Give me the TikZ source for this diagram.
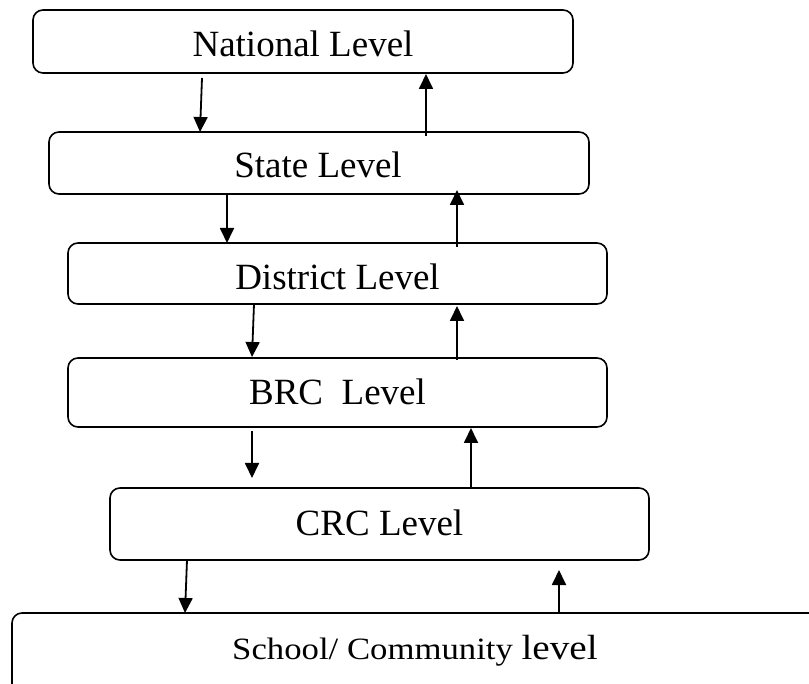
\documentclass[tikz,border=0pt]{standalone}
\usepackage{fontspec}
\setmainfont{Liberation Serif}
\newfontfamily\widefont[FakeStretch=1.12]{Liberation Serif}
\usetikzlibrary{arrows.meta}
\tikzset{
  levelbox/.style={draw, rectangle, rounded corners=10pt, line width=1.6pt, inner sep=0pt},
  lbl/.style={anchor=base, inner sep=0pt, font=\fontsize{37}{40}\selectfont},
  arr/.style={line width=1.8pt, -{Triangle[length=15pt,width=14pt]}},
}
\begin{document}
\begin{tikzpicture}[x=1pt, y=-1pt]
\useasboundingbox (0,0) rectangle (809,684);
\clip (0,0) rectangle (809,684);
% boxes
\node[levelbox, minimum width=540pt, minimum height=63pt] (nat) at (303,41.5) {};
\node[levelbox, minimum width=540pt, minimum height=62pt] (sta) at (319,163) {};
\node[levelbox, minimum width=539pt, minimum height=61pt] (dis) at (337.5,273.5) {};
\node[levelbox, minimum width=539pt, minimum height=69pt] (brc) at (337.5,392.5) {};
\node[levelbox, minimum width=539pt, minimum height=72pt] (crc) at (379.5,524) {};
\node[levelbox, minimum width=818pt, minimum height=82pt] (sch) at (421,654) {};
% labels
\node[lbl] (natT) at (303,57) {National Level};
\node[lbl] (staT) at (318,178) {State Level};
\node[lbl] (disT) at (337.5,290) {District Level};
\node[lbl] (brcT) at (337.5,405) {BRC\ \ Level};
\node[lbl] (crcT) at (379.5,535) {CRC Level};
\node[anchor=base, inner sep=0pt] (schT) at (415,659) {\widefont\fontsize{31}{34}\selectfont School/ Community \fontsize{35}{38}\selectfont level};
% connector end points
\coordinate (a1s) at (202,78);  \coordinate (a1e) at (200,132);
\coordinate (a2s) at (426,136); \coordinate (a2e) at (426,74);
\coordinate (a3s) at (227,194); \coordinate (a3e) at (227,243);
\coordinate (a4s) at (457,247); \coordinate (a4e) at (457,190);
\coordinate (a5s) at (254,304); \coordinate (a5e) at (252,357);
\coordinate (a6s) at (457,360); \coordinate (a6e) at (457,306);
\coordinate (a7s) at (252,431); \coordinate (a7e) at (252,478);
\coordinate (a8s) at (471,488); \coordinate (a8e) at (471,428);
\coordinate (a9s) at (187,560); \coordinate (a9e) at (185,613);
\coordinate (a10s) at (559,613); \coordinate (a10e) at (559,570);
% arrows
\draw[arr] (a1s) -- (a1e);
\draw[arr] (a2s) -- (a2e);
\draw[arr] (a3s) -- (a3e);
\draw[arr] (a4s) -- (a4e);
\draw[arr] (a5s) -- (a5e);
\draw[arr] (a6s) -- (a6e);
\draw[arr] (a7s) -- (a7e);
\draw[arr] (a8s) -- (a8e);
\draw[arr] (a9s) -- (a9e);
\draw[arr] (a10s) -- (a10e);
\end{tikzpicture}
\end{document}
